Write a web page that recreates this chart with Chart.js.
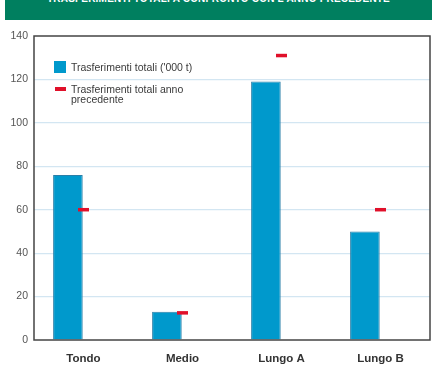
<!DOCTYPE html>
<html>
<head>
<meta charset="utf-8">
<script src="https://cdn.jsdelivr.net/npm/chart.js@4"></script>
<style>
  body { margin: 0; background: #fff; font-family: "Liberation Sans", Arial, sans-serif; }
  #wrap { position: relative; width: 432px; height: 372px; overflow: hidden; }
  #banner { position: absolute; left: 5px; top: 0; width: 427px; height: 20px; background: #007f5f; overflow: hidden; }
  #banner span { position: absolute; left: 0; right: 0; top: -7.5px; text-align: center; color: #fff; font-weight: bold; font-size: 10px; letter-spacing: 0.2px; }
  #chart { position: absolute; left: 0; top: 0; }
  .legend { position: absolute; left: 54px; font-size: 10.5px; color: #3a3a3a; line-height: 10.5px; }
  .legend .box { position: absolute; left: 0; width: 12px; height: 12px; background: #0099cc; }
  .legend .dash { position: absolute; left: 1px; width: 11px; height: 3.5px; background: #e0102a; }
  .legend .txt { position: absolute; left: 17px; white-space: nowrap; }
</style>
</head>
<body>
<div id="wrap">
  <div id="banner"><span>TRASFERIMENTI TOTALI A CONFRONTO CON L'ANNO PRECEDENTE</span></div>
  <canvas id="chart" width="432" height="372"></canvas>
  <div class="legend" style="top:61px"><div class="box"></div><div class="txt" style="top:1px">Trasferimenti totali ('000 t)</div></div>
  <div class="legend" style="top:84px"><div class="dash" style="top:3px"></div><div class="txt" style="top:-0.5px">Trasferimenti totali anno<br>precedente</div></div>
</div>
<script>
const categories = ["Tondo", "Medio", "Lungo A", "Lungo B"];
const totali = [76, 13, 119, 50];
const annoPrecedente = [60, 12.5, 131, 60];
const yTicks = [0, 20, 40, 60, 80, 100, 120, 140];

// frame round the plot area
const framePlugin = {
    id: "frame",
    afterDatasetsDraw(chart) {
        const { ctx, chartArea: a } = chart;
        ctx.save();
        ctx.strokeStyle = "#444";
        ctx.lineWidth = 1.5;
        ctx.strokeRect(a.left, a.top, a.right - a.left, a.bottom - a.top);
        ctx.restore();
    }
};

new Chart(document.getElementById("chart"), {
    data: {
        labels: categories,
        datasets: [
            { type: "line", label: "Trasferimenti totali anno precedente", data: annoPrecedente, showLine: false,
              pointStyle: "line", pointRadius: 5.5, pointHoverRadius: 5.5, pointBorderWidth: 3.5, borderColor: "#e0102a", backgroundColor: "#e0102a" },
            { type: "bar", label: "Trasferimenti totali ('000 t)", data: totali, backgroundColor: "#0099cc",
              borderColor: "#2a7fa8", borderWidth: 1, categoryPercentage: 0.63, barPercentage: 0.95 },
            { type: "bar", label: "", data: categories.map(() => null), categoryPercentage: 0.63, barPercentage: 0.95 }
        ]
    },
    options: {
        responsive: false,
        animation: false,
        layout: { autoPadding: false, padding: { top: 36, right: 2, left: 0, bottom: 0 } },
        plugins: { legend: { display: false }, tooltip: { enabled: false } },
        scales: {
            x: {
                grid: { display: false },
                border: { display: false },
                ticks: { color: "#333", font: { family: "Liberation Sans", size: 11.5, weight: "bold" }, padding: 4 },
                afterFit(scale) { scale.height = 32; }
            },
            y: {
                min: 0, max: 140,
                afterBuildTicks(scale) { scale.ticks = yTicks.map(v => ({ value: v })); },
                grid: { color: ctx => (ctx.tick && (ctx.tick.value === 0 || ctx.tick.value === 140)) ? "rgba(0,0,0,0)" : "#d3e6f2", lineWidth: 1.2, drawTicks: false },
                border: { display: false },
                ticks: { color: "#555", font: { family: "Liberation Sans", size: 10.5 }, padding: 6 },
                afterFit(scale) { scale.width = 34; }
            }
        }
    },
    plugins: [framePlugin]
});
</script>
</body>
</html>
